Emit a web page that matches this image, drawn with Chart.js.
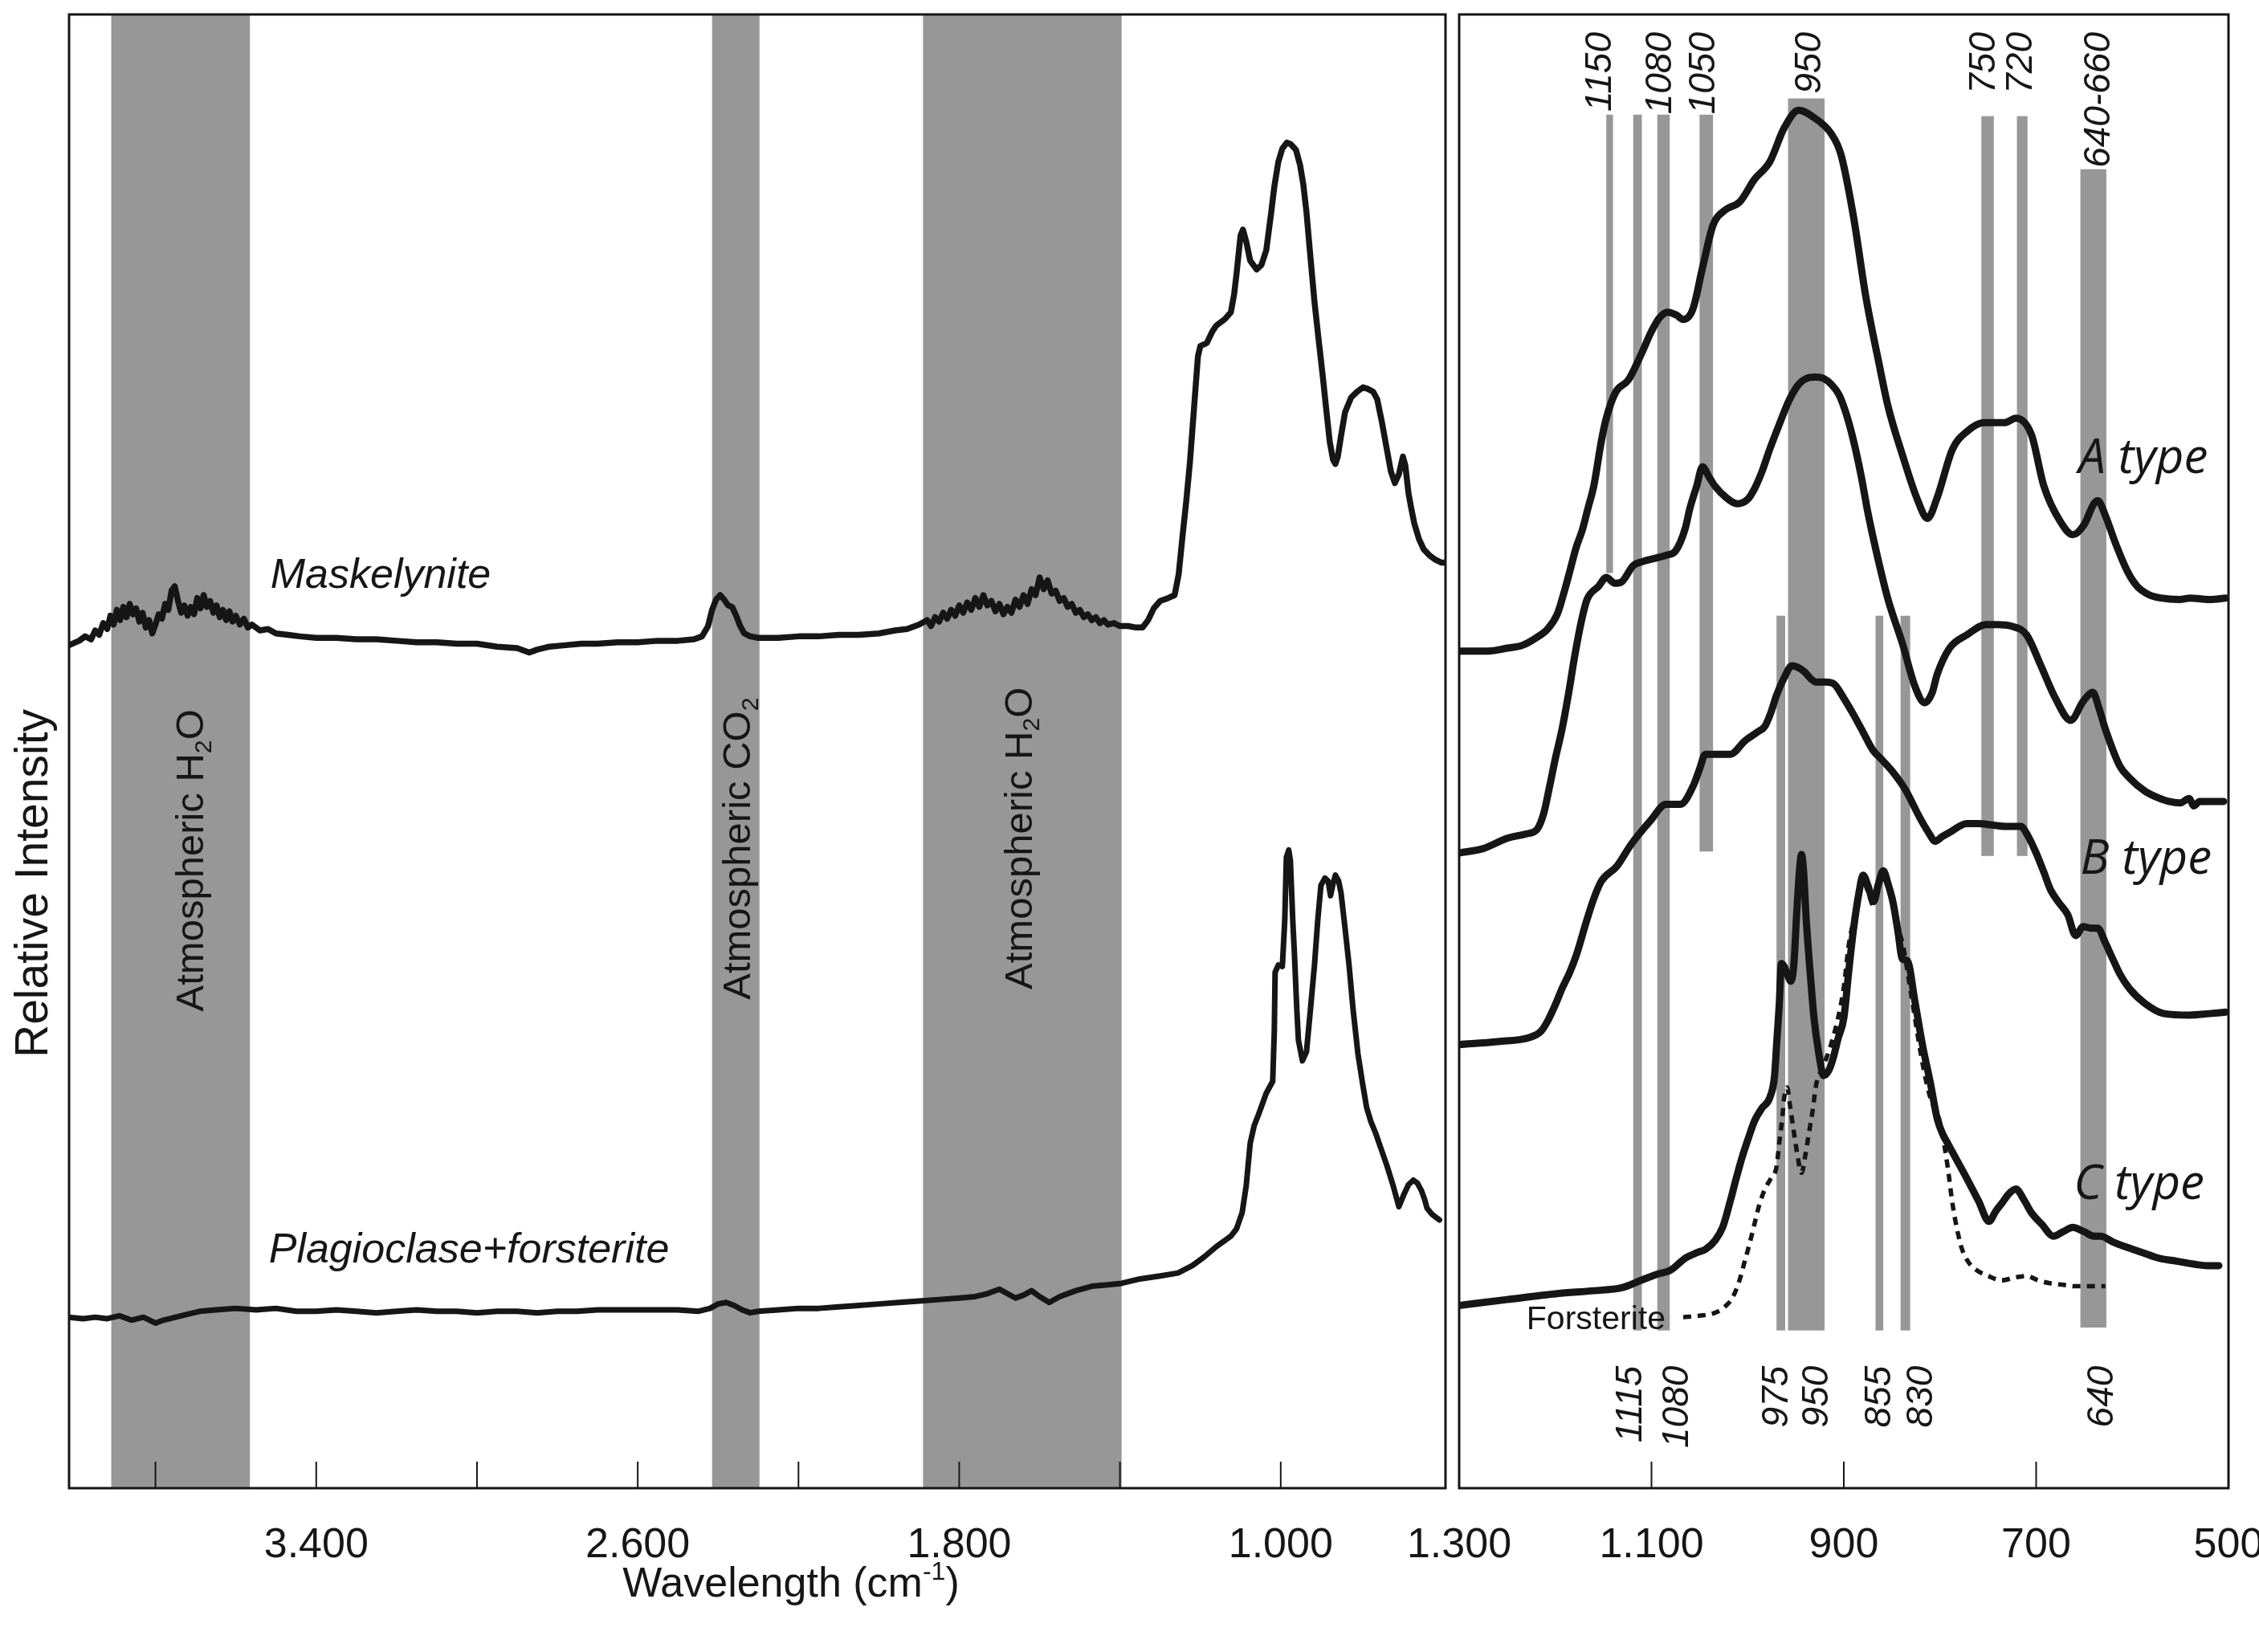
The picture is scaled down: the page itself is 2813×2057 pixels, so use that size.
<!DOCTYPE html>
<html>
<head>
<meta charset="utf-8">
<script src="https://cdn.jsdelivr.net/npm/chart.js@4.4.1/dist/chart.umd.min.js"></script>
<style>
  body { margin: 0; background: #fff; }
  #wrap { position: relative; width: 2813px; height: 2057px; overflow: hidden; }
  canvas { position: absolute; top: 0; }
  #left { left: 0; }
  #right { left: 1700px; }
</style>
</head>
<body>
<div id="wrap">
  <canvas id="left" width="1808" height="2057"></canvas>
  <canvas id="right" width="1113" height="2057"></canvas>
</div>
<script>
// ---- left panel: full range spectra (wavenumber, relative intensity) ----
const maskelynite = [
  [4015,57.2],[3990,57.5],[3975,57.8],[3960,57.6],[3950,58.2],[3940,57.9],[3930,58.7],[3920,58.3],
  [3912,59.2],[3904,58.6],[3896,59.6],[3888,58.9],[3880,59.8],[3872,59.1],[3864,60.0],[3856,59.3],
  [3848,59.7],[3840,58.8],[3832,59.4],[3824,58.4],[3816,58.9],[3808,58.0],[3800,58.6],[3792,59.3],
  [3784,59.0],[3776,60.0],[3768,59.6],[3760,60.9],[3752,61.2],[3744,60.2],[3736,59.4],[3728,59.9],
  [3720,59.2],[3712,59.8],[3704,59.3],[3696,60.4],[3688,59.7],[3680,60.6],[3672,59.8],[3664,60.2],
  [3656,59.4],[3648,59.9],[3640,59.1],[3632,59.6],[3624,58.9],[3616,59.5],[3608,58.8],[3600,59.2],
  [3590,58.6],[3580,59.0],[3570,58.4],[3560,58.6],[3540,58.2],[3520,58.3],[3500,58.0],[3470,57.9],
  [3440,57.8],[3400,57.7],[3350,57.7],[3300,57.6],[3250,57.6],[3200,57.5],[3150,57.4],[3100,57.4],
  [3050,57.3],[3000,57.3],[2950,57.1],[2900,57.0],[2870,56.7],[2850,56.9],[2820,57.1],[2780,57.2],
  [2740,57.3],[2700,57.3],[2650,57.4],[2600,57.4],[2550,57.5],[2500,57.5],[2460,57.6],[2440,57.8],
  [2425,58.5],[2415,59.6],[2405,60.3],[2395,60.6],[2385,60.3],[2375,59.9],[2365,59.8],[2355,59.2],
  [2345,58.5],[2335,58.0],[2320,57.8],[2300,57.7],[2250,57.7],[2200,57.8],[2150,57.8],[2100,57.9],
  [2050,57.9],[2000,58.0],[1960,58.2],[1930,58.3],[1900,58.6],[1880,58.9],[1870,58.5],[1860,59.1],
  [1850,58.8],[1840,59.4],[1830,59.0],[1820,59.6],[1810,59.2],[1800,59.9],[1790,59.4],[1780,60.1],
  [1770,59.6],[1760,60.4],[1750,59.8],[1740,60.6],[1730,59.9],[1720,60.2],[1710,59.5],[1700,60.0],
  [1690,59.3],[1680,59.8],[1670,59.4],[1660,60.3],[1650,59.8],[1640,60.6],[1630,60.0],[1620,61.0],
  [1610,60.6],[1600,61.8],[1590,61.0],[1580,61.6],[1570,60.7],[1560,60.9],[1550,60.2],[1540,60.4],
  [1530,59.8],[1520,60.0],[1510,59.4],[1500,59.6],[1490,59.1],[1480,59.3],[1470,58.9],[1460,59.1],
  [1450,58.7],[1440,58.9],[1430,58.6],[1415,58.7],[1400,58.5],[1380,58.5],[1360,58.4],[1344,58.4],
  [1330,58.9],[1316,59.7],[1300,60.2],[1280,60.4],[1264,60.6],[1254,62.0],[1244,64.7],[1235,67.0],
  [1226,69.6],[1216,73.2],[1206,76.8],[1200,77.5],[1184,77.7],[1170,78.5],[1160,78.9],[1140,79.3],
  [1124,79.8],[1116,81.0],[1110,82.4],[1100,85.0],[1094,85.4],[1086,84.6],[1076,83.3],[1060,82.7],
  [1048,83.0],[1036,84.0],[1024,86.5],[1016,88.3],[1006,90.0],[996,90.9],[985,91.3],[975,91.2],
  [962,90.8],[952,89.8],[944,88.5],[936,86.6],[926,83.5],[916,80.5],[906,78.0],[896,75.6],
  [886,73.0],[878,71.0],[870,69.8],[864,69.5],[858,70.0],[850,71.4],[840,73.0],[825,74.0],
  [810,74.4],[795,74.7],[784,74.6],[770,74.4],[760,73.9],[748,72.3],[736,70.5],[726,69.0],
  [716,68.2],[706,68.8],[696,70.0],[690,69.4],[682,67.5],[676,66.6],[668,65.5],[656,64.4],
  [644,63.7],[630,63.3],[615,63.0],[600,62.8],[592,62.8]
]
const plagioclaseForsterite = [
  [4015,11.6],[3980,11.5],[3950,11.6],[3920,11.5],[3890,11.7],[3860,11.4],[3830,11.6],[3800,11.2],
  [3780,11.4],[3750,11.6],[3720,11.8],[3690,12.0],[3650,12.1],[3600,12.2],[3550,12.1],[3500,12.2],
  [3450,12.0],[3400,12.0],[3350,12.1],[3300,12.0],[3250,11.9],[3200,12.0],[3150,12.1],[3100,12.0],
  [3050,12.0],[3000,11.9],[2950,12.0],[2900,12.0],[2850,11.9],[2800,12.0],[2750,12.0],[2700,12.1],
  [2650,12.1],[2600,12.1],[2550,12.1],[2500,12.1],[2450,12.0],[2420,12.2],[2400,12.5],[2380,12.6],
  [2360,12.4],[2340,12.1],[2320,11.9],[2300,12.0],[2250,12.1],[2200,12.2],[2150,12.2],[2100,12.3],
  [2050,12.4],[2000,12.5],[1950,12.6],[1900,12.7],[1850,12.8],[1800,12.9],[1760,13.0],[1730,13.2],
  [1700,13.5],[1680,13.2],[1660,12.9],[1640,13.1],[1620,13.4],[1600,13.0],[1576,12.6],[1550,13.0],
  [1510,13.4],[1470,13.7],[1430,13.8],[1396,13.9],[1350,14.2],[1300,14.4],[1256,14.6],[1220,15.1],
  [1190,15.7],[1160,16.4],[1124,17.1],[1110,17.6],[1096,18.7],[1086,20.5],[1076,23.4],[1066,24.6],
  [1056,25.3],[1036,26.8],[1020,27.6],[1016,31.0],[1014,35.0],[1006,35.5],[996,35.4],[990,38.5],
  [986,42.8],[980,43.3],[976,42.6],[970,38.5],[966,36.3],[960,32.5],[956,30.4],[946,29.0],
  [936,29.6],[926,32.5],[916,35.5],[908,38.5],[900,40.9],[890,41.4],[882,41.2],[876,40.2],
  [870,41.0],[864,41.6],[856,41.2],[850,40.4],[840,38.0],[830,35.5],[820,32.5],[808,29.5],
  [796,27.4],[786,25.8],[776,24.9],[764,24.1],[750,23.0],[736,21.9],[720,20.5],[706,19.1],
  [700,19.5],[694,19.9],[682,20.6],[670,20.9],[660,20.7],[650,20.2],[642,19.6],[636,19.0],
  [624,18.6],[610,18.3],[605,18.2]
]
const leftBands = [[3910, 3565], [2415, 2297], [1890, 1396]]
const leftTickLabels = [3400, 2600, 1800, 1000]
const leftTickMarks = [3800, 3400, 3000, 2600, 2200, 1800, 1400, 1000]

// ---- right panel: 1300-500 detail ----
const typeA = [
  [1300,56.8],[1270,56.8],[1250,57.0],[1234,57.2],[1220,57.7],[1208,58.3],[1198,59.3],[1190,61.0],
  [1185,62.2],[1178,63.9],[1172,65.0],[1166,66.5],[1160,68.0],[1152,71.1],[1147,72.6],[1137,74.4],
  [1124,75.2],[1111,76.9],[1100,78.5],[1092,79.4],[1083,79.8],[1074,79.6],[1067,79.3],[1057,80.0],
  [1047,82.8],[1036,85.7],[1024,86.7],[1008,87.3],[993,88.8],[977,90.0],[962,92.3],[947,93.5],
  [931,93.0],[913,91.9],[903,90.5],[890,86.3],[877,80.8],[864,76.5],[854,73.4],[839,70.1],
  [823,67.0],[813,65.8],[803,67.2],[787,70.5],[772,71.7],[754,72.3],[740,72.3],[733,72.3],
  [721,72.6],[705,71.5],[692,68.0],[675,65.6],[662,64.7],[650,65.4],[640,66.8],[636,67.0],
  [628,66.0],[618,64.2],[605,62.2],[595,61.2],[582,60.6],[570,60.4],[551,60.3],[540,60.4],
  [520,60.3],[503,60.4]
]
const typeA2 = [
  [1300,43.1],[1275,43.4],[1250,44.1],[1230,44.4],[1219,44.7],[1212,45.8],[1206,47.6],[1200,49.5],
  [1193,51.5],[1186,54.0],[1180,56.4],[1173,58.8],[1167,60.3],[1155,61.2],[1147,61.8],[1138,61.4],
  [1131,61.5],[1119,62.6],[1108,62.9],[1096,63.1],[1085,63.3],[1075,63.6],[1065,65.1],[1060,66.5],
  [1053,68.0],[1047,69.3],[1040,68.6],[1034,68.0],[1022,67.2],[1011,66.8],[1000,67.1],[993,67.8],
  [985,69.0],[977,70.5],[967,72.2],[957,73.8],[947,74.9],[939,75.3],[930,75.4],[921,75.3],
  [913,74.9],[905,74.2],[898,73.0],[890,71.1],[882,68.7],[875,66.2],[865,63.2],[854,60.3],
  [839,57.3],[826,54.4],[816,53.3],[808,54.0],[803,55.2],[790,57.0],[772,57.9],[752,58.6],
  [740,58.6],[726,58.5],[710,57.9],[695,55.8],[680,53.6],[664,52.1],[651,53.4],[641,54.0],
  [635,53.0],[628,51.5],[613,49.0],[603,48.2],[587,47.3],[575,46.9],[562,46.6],[550,46.5],
  [541,46.8],[536,46.3],[530,46.6],[505,46.6]
]
const typeB = [
  [1300,30.1],[1260,30.3],[1226,30.6],[1215,31.0],[1208,31.7],[1200,32.8],[1193,33.9],[1185,35.0],
  [1178,36.2],[1167,38.6],[1160,40.0],[1152,41.2],[1136,42.2],[1121,43.7],[1101,45.3],[1085,46.4],
  [1070,46.4],[1057,47.6],[1050,48.8],[1044,49.8],[1030,49.8],[1018,49.8],[1003,50.7],[990,51.3],
  [982,51.7],[976,52.6],[970,53.8],[962,55.0],[954,55.8],[948,55.7],[941,55.4],[934,54.9],
  [929,54.7],[920,54.7],[911,54.6],[900,53.6],[890,52.5],[880,51.3],[870,50.1],[860,49.4],
  [849,48.6],[836,47.4],[821,45.5],[812,44.5],[805,43.9],[798,44.2],[790,44.5],[772,45.1],
  [760,45.1],[746,45.0],[730,44.9],[716,44.9],[708,44.2],[700,43.1],[692,41.8],[685,40.6],
  [676,39.7],[667,38.9],[659,37.5],[651,38.1],[643,38.0],[636,38.0],[628,37.0],[621,36.0],
  [613,34.9],[603,33.9],[587,32.9],[567,32.2],[541,32.1],[520,32.2],[503,32.3]
]
const typeC = [
  [1300,12.4],[1250,12.8],[1198,13.2],[1160,13.4],[1131,13.6],[1111,14.1],[1095,14.5],[1080,14.8],
  [1065,15.6],[1052,16.0],[1044,16.2],[1034,16.8],[1026,17.7],[1018,19.5],[1012,21.0],[1006,22.4],
  [999,23.8],[993,24.9],[985,25.8],[977,26.5],[972,28.0],[970,30.0],[967,33.0],[965,35.6],
  [962,35.4],[959,34.9],[955,34.4],[952,35.5],[949,39.0],[946,42.0],[944,43.0],[942,42.0],
  [939,38.5],[935,35.0],[931,31.9],[926,29.5],[921,28.0],[916,28.3],[911,29.2],[906,30.5],
  [900,31.9],[895,35.0],[890,37.9],[884,40.5],[880,41.6],[875,40.9],[869,39.8],[864,41.0],
  [859,41.9],[854,41.0],[849,39.8],[844,37.9],[839,35.9],[834,35.8],[826,33.0],[818,30.0],
  [810,27.5],[803,25.1],[797,24.0],[792,23.4],[782,22.2],[772,21.0],[760,19.5],[749,18.1],
  [742,18.8],[736,19.3],[728,20.0],[721,20.3],[713,19.6],[705,18.7],[694,17.9],[682,17.1],
  [672,17.4],[662,17.7],[650,17.4],[640,17.1],[633,17.1],[620,16.7],[608,16.4],[590,16.0],
  [572,15.6],[554,15.4],[536,15.2],[522,15.1],[510,15.1]
]
const forsterite = [
  [1067,11.6],[1050,11.7],[1034,11.9],[1024,12.3],[1016,12.9],[1009,14.0],[1003,15.4],[998,16.6],
  [993,17.9],[988,19.2],[982,20.3],[976,21.0],[970,21.8],[967,23.5],[964,25.1],[962,26.5],
  [959,27.2],[956,26.0],[952,24.2],[948,22.5],[944,21.4],[940,22.6],[936,24.2],[932,25.8],
  [929,27.3],[924,28.3],[918,29.2],[912,30.4],[906,31.9],[900,34.0],[895,36.8],[890,38.5],
  [884,40.5],[880,41.2],[875,40.5],[869,39.5],[864,40.8],[859,41.5],[854,40.7],[849,39.5],
  [844,38.0],[839,37.0],[830,33.5],[820,29.5],[814,27.5],[808,26.1],[803,25.5],[798,24.2],
  [792,21.8],[787,19.3],[782,17.5],[777,16.2],[770,15.3],[762,14.8],[750,14.4],[736,14.1],
  [722,14.3],[710,14.4],[698,14.1],[685,13.9],[672,13.8],[659,13.7],[645,13.7],[628,13.7]
]
// reference bars: [from, to, lowIntensity, highIntensity]
const rightBars = [
  [1147,1140,62.1,93.2],[1119,1110,10.7,93.2],[1094,1081,10.7,93.2],[1050,1036,43.2,93.2],
  [958,920,10.7,94.3],[970,961,10.7,59.2],[867,859,10.7,59.2],[841,831,10.7,59.2],
  [757,744,42.9,93.1],[720,709,42.9,93.1],[654,627,10.9,89.5]
]
const topBandLabels = [['1150',1153],['1080',1090],['1050',1045],['950',935],['750',754],['720',715],['640-660',634]]
const bottomBandLabels = [['1115',1121],['1080',1073],['975',969],['950',927],['855',862],['830',819],['640',631]]
const rightTickLabels = [1300, 1100, 900, 700, 500]
const rightTickMarks = [1100, 900, 700]

const SANS = '"Liberation Sans", Arial, sans-serif'
const OPEN = '"Open Sans", "Liberation Sans", sans-serif'
const INK = '#161616'
const GREY = '#979797'

function fmtWn(v) {
  return v >= 1000 ? Math.floor(v / 1000) + '.' + String(v % 1000).padStart(3, '0') : String(v)
}

const toXY = pts => pts.map(p => ({ x: p[0], y: p[1] }))

function drawRich(ctx, parts, x0, y0, size, fontFor) {
  let x = x0
  parts.forEach(p => {
    const k = (p.sub || p.sup) ? 0.62 : 1
    ctx.font = fontFor(size * k)
    const dy = p.sub ? size * 0.2 : p.sup ? -size * 0.4 : 0
    ctx.fillText(p.t, x, y0 + dy)
    x += ctx.measureText(p.t).width
  })
  return x - x0
}

function richWidth(ctx, parts, size, fontFor) {
  let w = 0
  parts.forEach(p => {
    ctx.font = fontFor(size * ((p.sub || p.sup) ? 0.62 : 1))
    w += ctx.measureText(p.t).width
  })
  return w
}

function inwardTicks(ctx, a, x, marks) {
  ctx.strokeStyle = INK
  ctx.lineWidth = 2
  marks.forEach(t => {
    const px = x.getPixelForValue(t)
    ctx.beginPath()
    ctx.moveTo(px, a.bottom)
    ctx.lineTo(px, a.bottom - 33)
    ctx.stroke()
  })
  ctx.lineWidth = 3
  ctx.strokeRect(a.left, a.top, a.right - a.left, a.bottom - a.top)
}

const bandNames = [
  { parts: [{ t: 'Atmospheric H' }, { t: '2', sub: true }, { t: 'O' }], wn: 3716, v: 42.6 },
  { parts: [{ t: 'Atmospheric CO' }, { t: '2', sub: true }], wn: 2355, v: 43.4 },
  { parts: [{ t: 'Atmospheric H' }, { t: '2', sub: true }, { t: 'O' }], wn: 1655, v: 44.1 }
]
const sampleNames = [['Maskelynite', 3514, 61.1], ['Plagioclase+forsterite', 3518, 15.3]]
const typeNames = [['A type', 656, 68.9], ['B type', 654, 41.7], ['C type', 661, 19.6]]

const leftDecor = {
  id: 'leftDecor',
  beforeDatasetsDraw(chart) {
    const { ctx, chartArea: a, scales: { x } } = chart
    ctx.save()
    ctx.fillStyle = GREY
    leftBands.forEach(b => {
      const x1 = x.getPixelForValue(b[0]), x2 = x.getPixelForValue(b[1])
      ctx.fillRect(x1, a.top, x2 - x1, a.bottom - a.top)
    })
    ctx.restore()
  },
  afterDraw(chart) {
    const { ctx, chartArea: a, scales: { x, y } } = chart
    ctx.save()
    inwardTicks(ctx, a, x, leftTickMarks)
    ctx.fillStyle = INK
    ctx.textBaseline = 'alphabetic'
    ctx.textAlign = 'left'
    const bandFont = s => `${s}px ${SANS}`
    bandNames.forEach(b => {
      const w = richWidth(ctx, b.parts, 49, bandFont)
      ctx.save()
      ctx.translate(x.getPixelForValue(b.wn), y.getPixelForValue(b.v))
      ctx.rotate(-Math.PI / 2)
      drawRich(ctx, b.parts, -w / 2, 49 * 0.36, 49, bandFont)
      ctx.restore()
    })
    ctx.font = `italic 52px ${SANS}`
    sampleNames.forEach(s => ctx.fillText(s[0], x.getPixelForValue(s[1]), y.getPixelForValue(s[2])))
    // axis titles
    ctx.save()
    ctx.translate(43, 1100)
    ctx.rotate(-Math.PI / 2)
    ctx.font = `57px ${SANS}`
    ctx.textAlign = 'center'
    ctx.textBaseline = 'middle'
    ctx.fillText('Relative Intensity', 0, 0)
    ctx.restore()
    const title = [{ t: 'Wavelength (cm' }, { t: '-1', sup: true }, { t: ')' }]
    const tf = s => `${s}px ${SANS}`
    const tw = richWidth(ctx, title, 52, tf)
    drawRich(ctx, title, 985 - tw / 2, 1988, 52, tf)
    ctx.restore()
  }
}

const rightDecor = {
  id: 'rightDecor',
  beforeDatasetsDraw(chart) {
    const { ctx, scales: { x, y } } = chart
    ctx.save()
    ctx.fillStyle = GREY
    rightBars.forEach(b => {
      const x1 = x.getPixelForValue(b[0]), x2 = x.getPixelForValue(b[1])
      const y1 = y.getPixelForValue(b[3]), y2 = y.getPixelForValue(b[2])
      ctx.fillRect(x1, y1, x2 - x1, y2 - y1)
    })
    ctx.restore()
  },
  afterDraw(chart) {
    const { ctx, chartArea: a, scales: { x, y } } = chart
    ctx.save()
    inwardTicks(ctx, a, x, rightTickMarks)
    ctx.fillStyle = INK
    ctx.font = `italic 46px ${SANS}`
    ctx.textAlign = 'right'
    ctx.textBaseline = 'middle'
    const rot = (str, wn, v) => {
      ctx.save()
      ctx.translate(x.getPixelForValue(wn), y.getPixelForValue(v))
      ctx.rotate(-Math.PI / 2)
      ctx.fillText(str, 0, 0)
      ctx.restore()
    }
    topBandLabels.forEach(l => rot(l[0], l[1], 98.8))
    bottomBandLabels.forEach(l => rot(l[0], l[1], 8.3))
    ctx.textAlign = 'left'
    ctx.textBaseline = 'alphabetic'
    ctx.font = `italic 60px ${OPEN}`
    typeNames.forEach(t => ctx.fillText(t[0], x.getPixelForValue(t[1]), y.getPixelForValue(t[2])))
    ctx.font = `41px ${SANS}`
    ctx.fillText('Forsterite', x.getPixelForValue(1230), y.getPixelForValue(10.8))
    ctx.restore()
  }
}

function panelOptions(xMin, xMax, tickVals, pad) {
  return {
    responsive: false,
    animation: false,
    devicePixelRatio: 1,
    events: [],
    layout: { padding: pad },
    plugins: { legend: { display: false }, tooltip: { enabled: false } },
    elements: { point: { radius: 0 } },
    scales: {
      x: {
        type: 'linear',
        reverse: true,
        min: xMin,
        max: xMax,
        grid: { display: false, drawTicks: false },
        border: { display: false },
        afterBuildTicks: s => { s.ticks = tickVals.map(v => ({ value: v })) },
        afterFit: s => { s.height = 204; s.paddingLeft = 0; s.paddingRight = 0 },
        ticks: {
          autoSkip: false,
          maxRotation: 0,
          padding: 40,
          color: INK,
          font: { family: SANS, size: 52 },
          callback: v => fmtWn(v)
        }
      },
      y: { display: false, min: 0, max: 100 }
    }
  }
}

function spectrum(pts, width, extra) {
  return Object.assign({
    data: toXY(pts),
    borderColor: INK,
    borderWidth: width,
    borderJoinStyle: 'round',
    borderCapStyle: 'round',
    fill: false
  }, extra || {})
}

new Chart(document.getElementById('left'), {
  type: 'line',
  data: {
    datasets: [
      spectrum(maskelynite, 7.5, { tension: 0 }),
      spectrum(plagioclaseForsterite, 7, { tension: 0 })
    ]
  },
  options: panelOptions(590, 4015, leftTickLabels, { left: 86, right: 8, top: 18, bottom: 0 }),
  plugins: [leftDecor]
})

const smooth = { cubicInterpolationMode: 'monotone' }
new Chart(document.getElementById('right'), {
  type: 'line',
  data: {
    datasets: [
      spectrum(typeA, 9, smooth),
      spectrum(typeA2, 9, smooth),
      spectrum(typeB, 9, smooth),
      spectrum(typeC, 9, smooth),
      spectrum(forsterite, 5.5, Object.assign({ borderDash: [10, 8], borderCapStyle: 'butt' }, smooth))
    ]
  },
  options: panelOptions(500, 1300, rightTickLabels, { left: 117, right: 38, top: 18, bottom: 0 }),
  plugins: [rightDecor]
})
</script>
</body>
</html>
